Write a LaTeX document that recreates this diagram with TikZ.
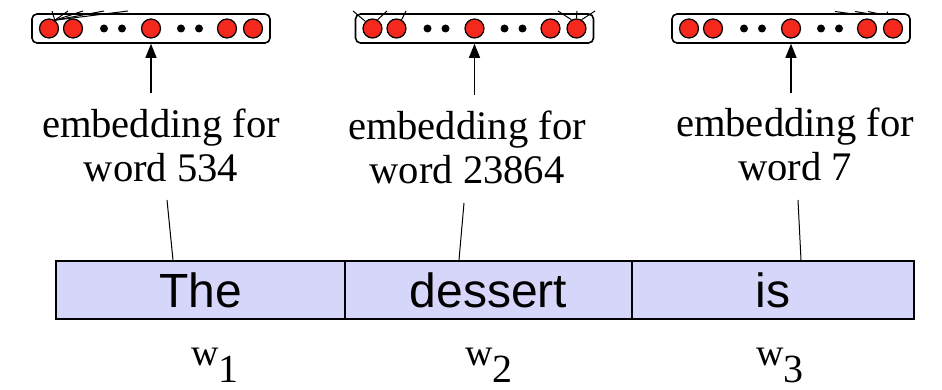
\documentclass[tikz,border=0pt]{standalone}
\usepackage{fontspec}
\setmainfont{Liberation Serif}
\setsansfont{Liberation Sans}
\usetikzlibrary{arrows.meta}
\definecolor{unitred}{RGB}{244,40,28}
\definecolor{wordfill}{RGB}{214,214,250}
\tikzset{
  vecbox/.style={draw,line width=0.8pt,rounded corners=2.5pt,minimum width=119pt,minimum height=14.5pt,inner sep=0pt},
  unit/.style={circle,draw,line width=0.6pt,fill=unitred,minimum size=9.5pt,inner sep=0pt},
  gap/.style={circle,fill=black,minimum size=4pt,inner sep=0pt},
  wordbox/.style={draw,line width=1pt,fill=wordfill,minimum height=29pt,inner sep=0pt,font=\sffamily\fontsize{24}{24}\selectfont},
  embtext/.style={align=center,font=\fontsize{20.3}{22}\selectfont},
  sublab/.style={anchor=base,inner sep=0pt},
  arr/.style={-{Triangle[width=5.5pt,length=7pt]},line width=0.6pt},
  link/.style={line width=0.5pt}
}
\newcommand{\wlab}[1]{{\fontsize{19}{19}\selectfont w}\raisebox{-8.5pt}{\fontsize{20}{20}\selectfont #1}}
\begin{document}
\begin{tikzpicture}[x=0.5pt,y=-0.5pt]
\useasboundingbox (0,0) rectangle (942,390);

% embedding vectors
\node[vecbox] (vec1) at (151,28.5) {};
\node[vecbox] (vec2) at (474.5,28.5) {};
\node[vecbox] (vec3) at (791,28.5) {};
\foreach \v in {vec1,vec2,vec3}{
  \foreach \dx/\n in {-102/a,-78/b,0/c,76/d,102/e}
    \node[unit] (\v\n) at ([xshift=\dx*0.5pt]\v.center) {};
  \foreach \dx in {-47,-29,30,48}
    \node[gap] at ([xshift=\dx*0.5pt]\v.center) {};
}

% cut-off links going up
\foreach \x in {52,68,83,104,128}
  \draw[link] (vec1a.55) -- (\x,11);
\draw[link] (vec2a.135) -- (353,11);
\draw[link] (vec2a.60) -- (387,11);
\draw[link] (vec2b.60) -- (406,11);
\draw[link] (vec2e.120) -- (558,11);
\draw[link] (vec2e.north) -- (577,11);
\draw[link] (vec2e.60) -- (595,11);
\foreach \x/\y in {835/857,855/873,868/882,887/888}
  \draw[link] (\x,11.5) -- (\y,14.5);

% labels
\node[embtext] (lab1) at (161,145) {embedding for\\word 534};
\node[embtext] (lab2) at (467,147) {embedding for\\word 23864};
\node[embtext] (lab3) at (795,144) {embedding for\\word 7};

\coordinate (e1) at (151,93);
\coordinate (e2) at (474.5,95);
\coordinate (e3) at (791,93);
\draw[arr] (e1) -- (vec1.south);
\draw[arr] (e2) -- (vec2.south);
\draw[arr] (e3) -- (vec3.south);

% input words
\node[wordbox,minimum width=144.5pt] (the) at (200.5,290) {The};
\node[wordbox,minimum width=143.5pt] (dessert) at (488.5,290) {dessert};
\node[wordbox,minimum width=141pt] (is) at (773,290) {is};

\coordinate (t1) at (167,200);
\coordinate (t2) at (464,203);
\coordinate (t3) at (798,200);
\draw[link] (t1) -- ([xshift=-13.75pt]the.north);
\draw[link] (t2) -- ([xshift=-14.75pt]dessert.north);
\draw[link] (t3) -- ([xshift=14pt]is.north);

\node[sublab] (w1) at (215,365) {\wlab{1}};
\node[sublab] (w2) at (489,365) {\wlab{2}};
\node[sublab] (w3) at (780,365) {\wlab{3}};
\end{tikzpicture}
\end{document}
